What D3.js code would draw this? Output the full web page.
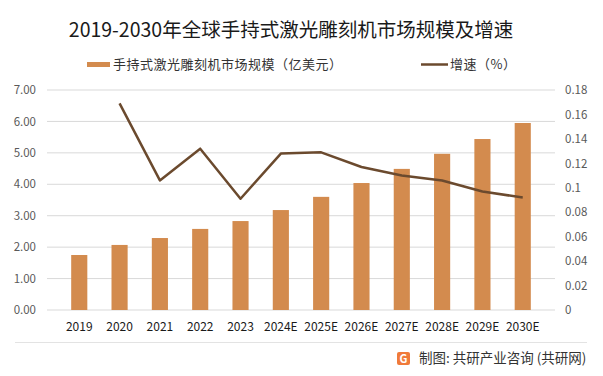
<!DOCTYPE html>
<html>
<head>
<meta charset="utf-8">
<script src="https://cdn.jsdelivr.net/npm/d3@7"></script>
<style>
  body { margin: 0; background: #fff; }
  svg text { font-family: "Noto Sans CJK SC", "Noto Sans", sans-serif; }
</style>
</head>
<body>
<div id="chart"></div>
<script>
// data
var years = ["2019", "2020", "2021", "2022", "2023", "2024E", "2025E", "2026E", "2027E", "2028E", "2029E", "2030E"];
var marketSize = [1.75, 2.07, 2.29, 2.58, 2.83, 3.18, 3.60, 4.04, 4.49, 4.97, 5.44, 5.95];
var growthYears = ["2020", "2021", "2022", "2023", "2024E", "2025E", "2026E", "2027E", "2028E", "2029E", "2030E"];
var growth = [0.169, 0.106, 0.132, 0.091, 0.128, 0.129, 0.117, 0.110, 0.106, 0.097, 0.092];
var leftTicks = [0, 1, 2, 3, 4, 5, 6, 7];
var rightTicks = [0, 0.02, 0.04, 0.06, 0.08, 0.1, 0.12, 0.14, 0.16, 0.18];

var W = 603, H = 376;
var margin = {top: 90, right: 48, bottom: 66, left: 47};
var width = W - margin.left - margin.right,
    height = H - margin.top - margin.bottom;

var svg = d3.select("#chart").append("svg")
    .attr("width", W)
    .attr("height", H);

// title
svg.append("text")
  .attr("x", 291).attr("y", 37)
  .attr("text-anchor", "middle")
  .attr("font-size", 19.5)
  .attr("fill", "#1a1a1a")
  .text("2019-2030年全球手持式激光雕刻机市场规模及增速");

// legend
svg.append("rect").attr("x", 87).attr("y", 62).attr("width", 23).attr("height", 5).attr("fill", "#D38B4E");
svg.append("text").attr("x", 113).attr("y", 69).attr("font-size", 13).attr("letter-spacing", 0.5).attr("fill", "#333")
  .text("手持式激光雕刻机市场规模（亿美元）");
svg.append("line").attr("x1", 421).attr("x2", 448).attr("y1", 64.5).attr("y2", 64.5)
  .attr("stroke", "#6B4a2e").attr("stroke-width", 2.5);
svg.append("text").attr("x", 450).attr("y", 69).attr("font-size", 13).attr("letter-spacing", 0.5).attr("fill", "#333")
  .text("增速（%）");

var g = svg.append("g")
  .attr("transform", "translate(" + margin.left + "," + margin.top + ")");

var x = d3.scaleBand().domain(years).range([0, width]).padding(0.6);
var y = d3.scaleLinear().domain([0, 7]).range([height, 0]);
var y2 = d3.scaleLinear().domain([0, 0.18]).range([height, 0]);

// grid lines
g.selectAll(".grid")
  .data(leftTicks)
  .enter()
  .append("line")
    .attr("x1", 0).attr("x2", width)
    .attr("y1", function(d) { return y(d); })
    .attr("y2", function(d) { return y(d); })
    .attr("stroke", "#d9d9d9")
    .attr("stroke-width", 1);

// left axis
var yAxis = g.append("g")
  .call(d3.axisLeft(y).tickValues(leftTicks).tickFormat(d3.format(".2f")).tickSize(0).tickPadding(11));
yAxis.select(".domain").remove();
yAxis.selectAll("text").attr("font-size", 11.5).attr("fill", "#595959");

// right axis
var yAxis2 = g.append("g")
  .attr("transform", "translate(" + width + ",0)")
  .call(d3.axisRight(y2).tickValues(rightTicks).tickFormat(function(d) { return d3.format("")(+d.toFixed(2)); }).tickSize(0).tickPadding(10));
yAxis2.select(".domain").remove();
yAxis2.selectAll("text").attr("font-size", 11.5).attr("fill", "#595959");

// x axis
var xAxis = g.append("g")
  .attr("transform", "translate(0," + height + ")")
  .call(d3.axisBottom(x).tickSize(0).tickPadding(12));
xAxis.select(".domain").remove();
xAxis.selectAll("text").attr("font-size", 12).attr("fill", "#1a1a1a");

// bars
g.selectAll(".bar")
  .data(marketSize)
  .enter()
  .append("rect")
    .attr("x", function(d, i) { return x(years[i]); })
    .attr("y", function(d) { return y(d); })
    .attr("width", x.bandwidth())
    .attr("height", function(d) { return height - y(d); })
    .attr("fill", "#D38B4E");

// growth line
var line = d3.line()
  .x(function(d, i) { return x(growthYears[i]) + x.bandwidth() / 2; })
  .y(function(d) { return y2(d); });

g.append("path")
  .datum(growth)
  .attr("d", line)
  .attr("fill", "none")
  .attr("stroke", "#6B4a2e")
  .attr("stroke-width", 2.5)
  .attr("stroke-linejoin", "round");

// footer
svg.append("line").attr("x1", 15).attr("x2", 587).attr("y1", 342.5).attr("y2", 342.5)
  .attr("stroke", "#e3e3e3").attr("stroke-width", 1);

var logo = svg.append("g").attr("transform", "translate(397,352)");
logo.append("rect").attr("width", 13).attr("height", 13).attr("rx", 2).attr("fill", "#F07A3A");
logo.append("text").attr("x", 6.5).attr("y", 11).attr("text-anchor", "middle")
  .attr("font-size", 11).attr("font-weight", "bold").attr("fill", "#fff").text("G");

svg.append("text").attr("x", 419).attr("y", 363).attr("font-size", 13.5).attr("fill", "#333")
  .text("制图: 共研产业咨询 (共研网)");
</script>
</body>
</html>
